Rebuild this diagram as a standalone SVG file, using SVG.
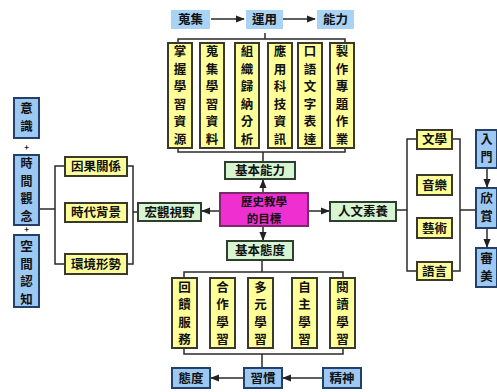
<svg xmlns="http://www.w3.org/2000/svg" width="497" height="392" viewBox="0 0 497 392">
<defs>
<marker id="ah" viewBox="0 0 10 10" refX="9" refY="5" markerWidth="6" markerHeight="6" orient="auto"><path d="M0,1 L10,5 L0,9 z" fill="#222"/></marker>
<style>
text{font-family:"Noto Sans CJK TC","Noto Sans CJK SC",sans-serif;font-weight:bold;font-size:12.5px;fill:#111;text-anchor:middle}
.y{fill:#ffff99;stroke:#3a3a2a;stroke-width:2}
.g{fill:#d6f5d0;stroke:#2f3f2f;stroke-width:2}
.b{fill:#9cc8f2;stroke:#23406a;stroke-width:2}
.t{fill:#a9d3f5;stroke:none}
.m{fill:#f02fd0;stroke:#7a2a6a;stroke-width:2}
.c line,.c path{stroke:#2a2a2a;stroke-width:1.5;fill:none}
.a{marker-end:url(#ah)}
.p{font-size:8px}
.s{font-size:12px}
.cm{font-size:11.5px}
</style>
</defs>
<rect width="497" height="392" fill="#fff"/>

<g class="c" id="connectors">
<line class="a" x1="211" y1="19" x2="244" y2="19"/>
<line class="a" x1="283" y1="19" x2="315" y2="19"/>
<path d="M178,42 V39 H345 V42"/>
<line x1="265" y1="33" x2="265" y2="39"/>
<path d="M178,148 V152 H345 V148"/>
<line x1="263" y1="152" x2="263" y2="162"/>
<line class="a" x1="263" y1="193" x2="263" y2="180"/>
<line class="a" x1="220" y1="211" x2="202" y2="211"/>
<line class="a" x1="308" y1="211" x2="329" y2="211"/>
<line class="a" x1="263" y1="226" x2="263" y2="240"/>
<line x1="262" y1="260" x2="262" y2="272"/>
<path d="M184,278 V272 H343 V278"/>
<path d="M184,348 V354 H343 V348"/>
<line x1="262" y1="354" x2="262" y2="367"/>
<line class="a" x1="243" y1="378" x2="211" y2="378"/>
<line class="a" x1="322" y1="378" x2="283" y2="378"/>
<line x1="40" y1="209" x2="55" y2="209"/>
<path d="M65,166 H55 V264 H65"/>
<path d="M127,166 H133 V264 H127"/>
<line x1="133" y1="212" x2="138" y2="212"/>
<line x1="396" y1="210" x2="407" y2="210"/>
<path d="M417,139 H407 V271 H417"/>
<path d="M452,139 H460 V271 H452"/>
<line x1="460" y1="210" x2="475" y2="210"/>
<line class="a" x1="487" y1="168" x2="487" y2="187"/>
<line class="a" x1="487" y1="228" x2="487" y2="247"/>
</g>

<g id="n-top1"><rect class="t" x="171" y="10" width="39" height="19"/><text x="190.5" y="24">蒐集</text></g>
<g id="n-top2"><rect class="t" x="246" y="10" width="37" height="19"/><text x="264.5" y="24">運用</text></g>
<g id="n-top3"><rect class="t" x="317" y="10" width="37" height="19"/><text x="335.5" y="24">能力</text></g>

<g id="n-c1"><rect class="y" x="168" y="43" width="24" height="105"/><text x="180" y="56"><tspan x="180">掌</tspan><tspan x="180" dy="17.5">握</tspan><tspan x="180" dy="17.5">學</tspan><tspan x="180" dy="17.5">習</tspan><tspan x="180" dy="17.5">資</tspan><tspan x="180" dy="17.5">源</tspan></text></g>
<g id="n-c2"><rect class="y" x="200" y="43" width="24" height="105"/><text x="212" y="56"><tspan x="212">蒐</tspan><tspan x="212" dy="17.5">集</tspan><tspan x="212" dy="17.5">學</tspan><tspan x="212" dy="17.5">習</tspan><tspan x="212" dy="17.5">資</tspan><tspan x="212" dy="17.5">料</tspan></text></g>
<g id="n-c3"><rect class="y" x="235" y="43" width="24" height="105"/><text x="247" y="56"><tspan x="247">組</tspan><tspan x="247" dy="17.5">織</tspan><tspan x="247" dy="17.5">歸</tspan><tspan x="247" dy="17.5">納</tspan><tspan x="247" dy="17.5">分</tspan><tspan x="247" dy="17.5">析</tspan></text></g>
<g id="n-c4"><rect class="y" x="268" y="43" width="24" height="105"/><text x="280" y="56"><tspan x="280">應</tspan><tspan x="280" dy="17.5">用</tspan><tspan x="280" dy="17.5">科</tspan><tspan x="280" dy="17.5">技</tspan><tspan x="280" dy="17.5">資</tspan><tspan x="280" dy="17.5">訊</tspan></text></g>
<g id="n-c5"><rect class="y" x="298" y="43" width="24" height="105"/><text x="310" y="56"><tspan x="310">口</tspan><tspan x="310" dy="17.5">語</tspan><tspan x="310" dy="17.5">文</tspan><tspan x="310" dy="17.5">字</tspan><tspan x="310" dy="17.5">表</tspan><tspan x="310" dy="17.5">達</tspan></text></g>
<g id="n-c6"><rect class="y" x="330" y="43" width="24" height="105"/><text x="342" y="56"><tspan x="342">製</tspan><tspan x="342" dy="17.5">作</tspan><tspan x="342" dy="17.5">專</tspan><tspan x="342" dy="17.5">題</tspan><tspan x="342" dy="17.5">作</tspan><tspan x="342" dy="17.5">業</tspan></text></g>

<g id="n-ability"><rect class="g" x="225" y="162" width="70" height="17"/><text x="260" y="175">基本能力</text></g>
<g id="n-center"><rect class="m" x="220" y="193" width="88" height="33"/><text class="cm" x="264" y="205.5">歷史教學</text><text class="cm" x="264" y="222.5">的目標</text></g>
<g id="n-macro"><rect class="g" x="138" y="203" width="63" height="18"/><text x="169.5" y="216.5">宏觀視野</text></g>
<g id="n-human"><rect class="g" x="330" y="202" width="66" height="19"/><text x="363" y="216">人文素養</text></g>
<g id="n-attitude"><rect class="g" x="227" y="241" width="66" height="19"/><text x="260" y="255">基本態度</text></g>

<g id="n-b1"><rect class="y" x="172" y="278" width="25" height="70"/><text x="184.5" y="291.5"><tspan x="184.5">回</tspan><tspan x="184.5" dy="17.5">饋</tspan><tspan x="184.5" dy="17.5">服</tspan><tspan x="184.5" dy="17.5">務</tspan></text></g>
<g id="n-b2"><rect class="y" x="210" y="278" width="25" height="70"/><text x="222.5" y="291.5"><tspan x="222.5">合</tspan><tspan x="222.5" dy="17.5">作</tspan><tspan x="222.5" dy="17.5">學</tspan><tspan x="222.5" dy="17.5">習</tspan></text></g>
<g id="n-b3"><rect class="y" x="248" y="278" width="25" height="70"/><text x="260.5" y="291.5"><tspan x="260.5">多</tspan><tspan x="260.5" dy="17.5">元</tspan><tspan x="260.5" dy="17.5">學</tspan><tspan x="260.5" dy="17.5">習</tspan></text></g>
<g id="n-b4"><rect class="y" x="292" y="278" width="25" height="70"/><text x="304.5" y="291.5"><tspan x="304.5">自</tspan><tspan x="304.5" dy="17.5">主</tspan><tspan x="304.5" dy="17.5">學</tspan><tspan x="304.5" dy="17.5">習</tspan></text></g>
<g id="n-b5"><rect class="y" x="330" y="278" width="25" height="70"/><text x="342.5" y="291.5"><tspan x="342.5">閱</tspan><tspan x="342.5" dy="17.5">讀</tspan><tspan x="342.5" dy="17.5">學</tspan><tspan x="342.5" dy="17.5">習</tspan></text></g>

<g id="n-taidu"><rect class="b" x="172" y="368" width="38" height="20"/><text x="191" y="382.5">態度</text></g>
<g id="n-xiguan"><rect class="b" x="244" y="368" width="38" height="20"/><text x="263" y="382.5">習慣</text></g>
<g id="n-jingshen"><rect class="b" x="323" y="368" width="38" height="20"/><text x="342" y="382.5">精神</text></g>

<g id="n-l1"><rect class="b" x="14" y="98" width="25" height="40"/><text x="26.5" y="113"><tspan x="26.5">意</tspan><tspan x="26.5" dy="18">識</tspan></text></g>
<g id="n-plus1"><text class="p" x="26.5" y="149.5">+</text></g>
<g id="n-l2"><rect class="b" x="14" y="155" width="25" height="70"/><text class="s" x="26.5" y="168"><tspan x="26.5">時</tspan><tspan x="26.5" dy="17.5">間</tspan><tspan x="26.5" dy="17.5">觀</tspan><tspan x="26.5" dy="17.5">念</tspan></text></g>
<g id="n-plus2"><text class="p" x="26.5" y="232">+</text></g>
<g id="n-l3"><rect class="b" x="14" y="235" width="25" height="72"/><text x="26.5" y="251"><tspan x="26.5">空</tspan><tspan x="26.5" dy="17.5">間</tspan><tspan x="26.5" dy="17.5">認</tspan><tspan x="26.5" dy="17.5">知</tspan></text></g>

<g id="n-ly1"><rect class="y" x="65" y="157" width="62" height="19"/><text x="96" y="171">因果關係</text></g>
<g id="n-ly2"><rect class="y" x="65" y="203" width="62" height="19"/><text x="96" y="217">時代背景</text></g>
<g id="n-ly3"><rect class="y" x="65" y="254" width="62" height="20"/><text x="96" y="268.5">環境形勢</text></g>

<g id="n-r1"><rect class="y" x="417" y="130" width="35" height="19"/><text x="434.5" y="144">文學</text></g>
<g id="n-r2"><rect class="y" x="417" y="175" width="35" height="20"/><text x="434.5" y="189.5">音樂</text></g>
<g id="n-r3"><rect class="y" x="417" y="218" width="35" height="20"/><text x="434.5" y="232.5">藝術</text></g>
<g id="n-r4"><rect class="y" x="417" y="262" width="35" height="18"/><text x="434.5" y="275.5">語言</text></g>

<g id="n-rb1"><rect class="b" x="476" y="130" width="21" height="38"/><text class="s" x="486.5" y="144"><tspan x="486.5">入</tspan><tspan x="486.5" dy="18">門</tspan></text></g>
<g id="n-rb2"><rect class="b" x="476" y="188" width="21" height="40"/><text x="486.5" y="203"><tspan x="486.5">欣</tspan><tspan x="486.5" dy="18">賞</tspan></text></g>
<g id="n-rb3"><rect class="b" x="476" y="248" width="21" height="39"/><text x="486.5" y="263"><tspan x="486.5">審</tspan><tspan x="486.5" dy="18">美</tspan></text></g>
</svg>
